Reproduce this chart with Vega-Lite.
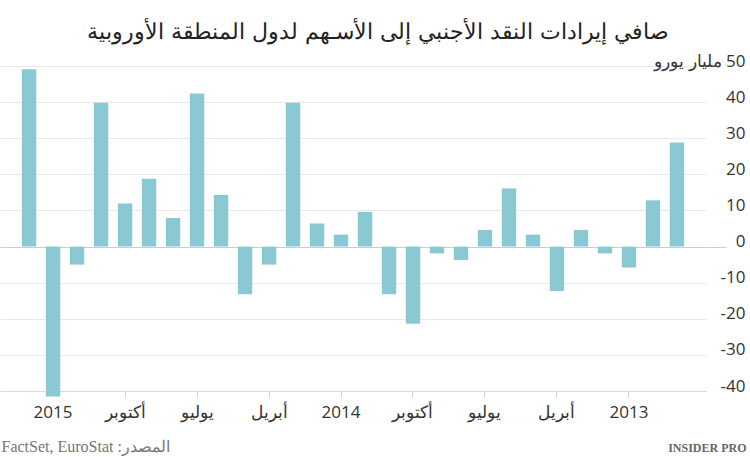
{
  "$schema": "https://vega.github.io/schema/vega-lite/v6.json",
  "autosize": {"type": "none"},
  "width": 706,
  "height": 325,
  "padding": {"left": 0, "top": 66, "right": 44, "bottom": 66},
  "background": "white",
  "title": {
    "text": "صافي إيرادات النقد الأجنبي إلى الأسـهم لدول المنطقة الأوروبية",
    "anchor": "middle",
    "dx": 25,
    "offset": -9,
    "baseline": "alphabetic",
    "font": "DejaVu Serif, Liberation Serif, serif",
    "fontSize": 22,
    "fontWeight": "normal",
    "color": "#222"
  },
  "data": {
    "values": [
      {"month": "2012-11", "value": 28.8},
      {"month": "2012-12", "value": 12.8},
      {"month": "2013-01", "value": -5.8},
      {"month": "2013-02", "value": -1.9},
      {"month": "2013-03", "value": 4.6},
      {"month": "2013-04", "value": -12.3},
      {"month": "2013-05", "value": 3.3},
      {"month": "2013-06", "value": 16.1},
      {"month": "2013-07", "value": 4.6},
      {"month": "2013-08", "value": -3.7},
      {"month": "2013-09", "value": -1.9},
      {"month": "2013-10", "value": -21.4},
      {"month": "2013-11", "value": -13.2},
      {"month": "2013-12", "value": 9.6},
      {"month": "2014-01", "value": 3.3},
      {"month": "2014-02", "value": 6.4},
      {"month": "2014-03", "value": 39.8},
      {"month": "2014-04", "value": -5.0},
      {"month": "2014-05", "value": -13.2},
      {"month": "2014-06", "value": 14.3},
      {"month": "2014-07", "value": 42.4},
      {"month": "2014-08", "value": 7.9},
      {"month": "2014-09", "value": 18.8},
      {"month": "2014-10", "value": 11.9},
      {"month": "2014-11", "value": 39.8},
      {"month": "2014-12", "value": -5.0},
      {"month": "2015-01", "value": -41.5},
      {"month": "2015-02", "value": 49.1}
    ]
  },
  "mark": {"type": "bar", "color": "#88c9d3"},
  "encoding": {
    "x": {
      "field": "month",
      "type": "ordinal",
      "sort": "descending",
      "scale": {"paddingInner": 0.4, "paddingOuter": 0.91},
      "axis": {
        "values": ["2013-01", "2013-04", "2013-07", "2013-10", "2014-01", "2014-04", "2014-07", "2014-10", "2015-01"],
        "labelExpr": "slice(datum.value, 5) == '01' ? slice(datum.value, 0, 4) : slice(datum.value, 5) == '04' ? 'أبريل' : slice(datum.value, 5) == '07' ? 'يوليو' : 'أكتوبر'",
        "labelAngle": 0,
        "labelFont": "Open Sans",
        "labelFontSize": 17,
        "labelColor": "#333",
        "labelPadding": 7,
        "labelOverlap": false,
        "domainColor": "#d8d8d8",
        "tickColor": "#d0d0d0",
        "tickSize": 6,
        "grid": false,
        "title": "‫المصدر: FactSet, EuroStat‬",
        "titleX": 1,
        "titleY": 60,
        "titleAlign": "left",
        "titleBaseline": "alphabetic",
        "titleFont": "Liberation Serif",
        "titleFontSize": 16,
        "titleFontWeight": "normal",
        "titleColor": "#777"
      }
    },
    "y": {
      "field": "value",
      "type": "quantitative",
      "scale": {"domain": [-40, 50], "nice": false},
      "axis": {
        "orient": "right",
        "values": [-40, -30, -20, -10, 0, 10, 20, 30, 40, 50],
        "labelExpr": "datum.value == 50 ? '‫50 مليار يورو‬' : replace(datum.label, '−', '-')",
        "labelAlign": "right",
        "labelBaseline": "alphabetic",
        "labelPadding": 19,
        "labelOverlap": false,
        "labelFont": "Open Sans",
        "labelFontSize": 17,
        "labelColor": "#333",
        "tickSize": 20,
        "tickColor": {"condition": {"test": "datum.value == 0", "value": "#cccccc"}, "value": "transparent"},
        "domain": false,
        "grid": true,
        "gridColor": {"condition": {"test": "datum.value == 0", "value": "#cccccc"}, "value": "#e8e8e8"},
        "title": "INSIDER PRO",
        "titleAngle": 0,
        "titleX": 40,
        "titleY": 385,
        "titleAlign": "right",
        "titleBaseline": "alphabetic",
        "titleFont": "Liberation Serif",
        "titleFontSize": 12,
        "titleFontWeight": "bold",
        "titleColor": "#666"
      }
    }
  },
  "config": {"view": {"stroke": null}}
}
